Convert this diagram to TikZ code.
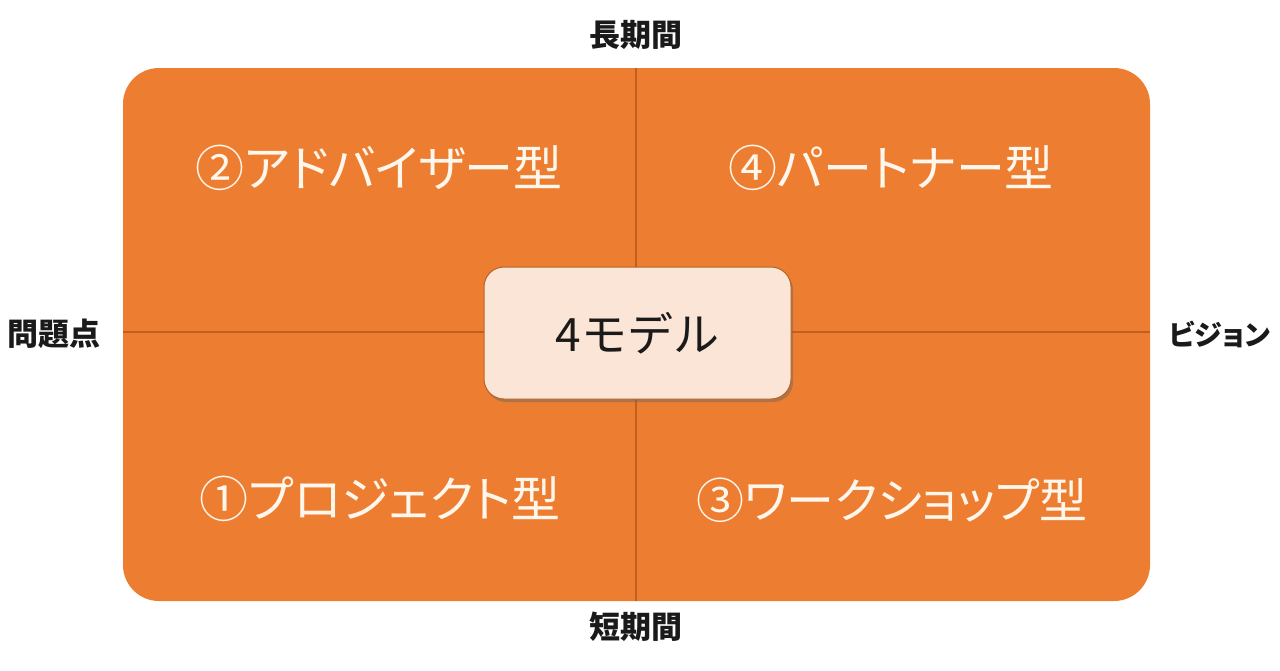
\documentclass[tikz,border=0pt]{standalone}
\usepackage{fontspec}
\setmainfont{Noto Sans CJK JP}
\newfontfamily\paltfont{Noto Sans CJK JP}[RawFeature=+palt]
\usetikzlibrary{shadows}
\definecolor{orangeA}{HTML}{ED7D31}
\definecolor{orangeLine}{HTML}{C0601E}
\definecolor{peach}{HTML}{FBE5D6}
\definecolor{peachBorder}{HTML}{B5652A}
\definecolor{txtdark}{HTML}{1A1A1A}
\definecolor{quadtxt}{HTML}{FFF6EC}
\tikzset{
  quad/.style={text=quadtxt, font=\paltfont\fontsize{49}{52}\selectfont, inner sep=0pt, anchor=center},
  axis/.style={text=txtdark, font=\paltfont\fontsize{31}{34}\selectfont\bfseries, inner sep=0pt, anchor=center},
  divider/.style={draw=orangeLine, line width=1.2pt},
  centerbox/.style={draw=peachBorder, line width=1pt, fill=peach, rounded corners=20pt,
    minimum width=307pt, minimum height=132pt, text=txtdark,
    font=\fontsize{46}{50}\selectfont, drop shadow={shadow xshift=2pt, shadow yshift=-3pt, opacity=0.45, fill=black!60}},
}
\begin{document}
\begin{tikzpicture}[x=1pt,y=-1pt]
\useasboundingbox (0,0) rectangle (1280,670);
\fill[white] (0,0) rectangle (1280,670);
% main panel
\fill[orangeA, rounded corners=36pt] (123,68) rectangle (1150,601);
\coordinate (top) at (636,68);
\coordinate (bot) at (636,601);
\coordinate (lft) at (123,332);
\coordinate (rgt) at (1150,332);
\draw[divider] (top) -- (bot);
\draw[divider] (lft) -- (rgt);
% quadrant labels
\node[quad] (q2) at (379,168) {②アドバイザー型};
\node[quad] (q4) at (891,168) {④パートナー型};
\node[quad] (q1) at (380,499) {①プロジェクト型};
\node[quad, font=\paltfont\fontsize{48}{52}\selectfont] (q3) at (892,500) {③ワークショップ型};
% center
\node[centerbox] (center) at (637.5,333) {4モデル};
% axis labels
\node[axis] (long) at (636,35) {長期間};
\node[axis] (short) at (636,627) {短期間};
\node[axis] (prob) at (54,334) {問題点};
\node[axis, font=\paltfont\fontsize{28}{32}\selectfont\bfseries] (vision) at (1220,334) {ビジョン};
\end{tikzpicture}
\end{document}
